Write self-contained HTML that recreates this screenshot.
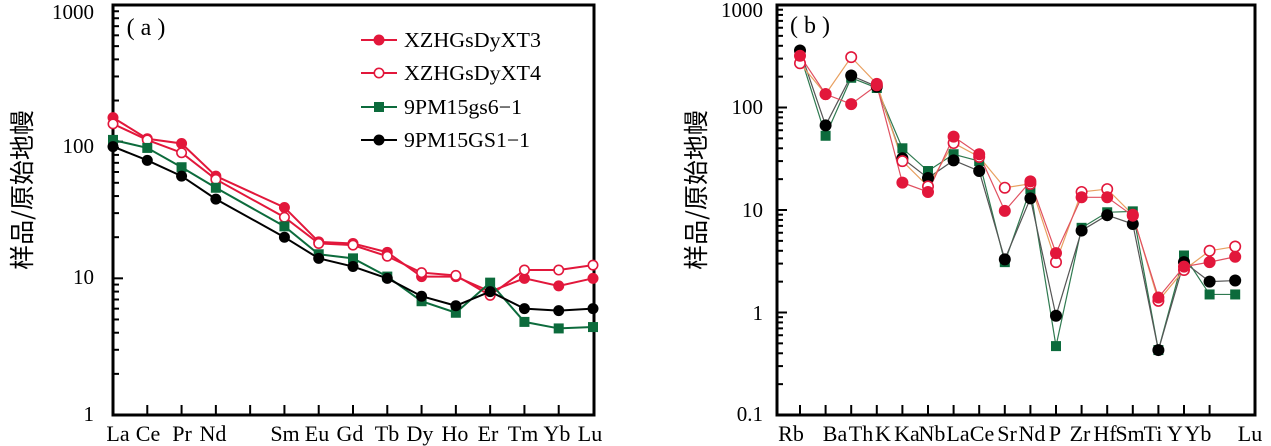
<!DOCTYPE html>
<html><head><meta charset="utf-8">
<style>
html,body{margin:0;padding:0;background:#fff;}
svg{display:block;font-family:"Liberation Serif","Noto Serif CJK SC",serif;}
</style></head>
<body>
<svg id="s" width="1271" height="446" viewBox="0 0 1271 446" xmlns="http://www.w3.org/2000/svg"></svg>
<script>
const S=document.getElementById('s');let h='';
const RED='#e2173b',GRN='#0c6b3c',BLK='#000';
function line(x1,y1,x2,y2,c,w){h+=`<line x1="${x1}" y1="${y1}" x2="${x2}" y2="${y2}" stroke="${c}" stroke-width="${w}"/>`;}
function txt(x,y,t,sz,anc,extra){h+=`<text x="${x}" y="${y}" font-size="${sz}" text-anchor="${anc||'middle'}" ${extra||''}>${t}</text>`;}
function marker(x,y,type,c,r){
 if(type=='f')h+=`<circle cx="${x}" cy="${y}" r="${r}" fill="${c}"/>`;
 else if(type=='o')h+=`<circle cx="${x}" cy="${y}" r="${r-0.8}" fill="#fff" stroke="${c}" stroke-width="1.6"/>`;
 else h+=`<rect x="${x-r}" y="${y-r}" width="${2*r}" height="${2*r}" fill="${c}"/>`;
}
// ---------- Panel A ----------
{
const L=113,R=594,T=5,B=415;const dec=(B-T)/3;
const Y=v=>B-Math.log10(v)*dec;
const xs=[];for(let i=0;i<15;i++)xs.push(L+i*(593-L)/14);
for(let i=1;i<14;i++)line(xs[i],B,xs[i],B-10,BLK,2);
for(let d=0;d<3;d++)for(let m=1;m<10;m++){const y=B-(d+Math.log10(m))*dec;line(L,y,L+(m==1?10:6),y,BLK,2);}
h+=`<rect x="${L}" y="${T}" width="${R-L}" height="${B-T}" fill="none" stroke="#000" stroke-width="3"/>`;
txt(94,421,'1',21,'end');txt(94,284,'10',21,'end');txt(94,153,'100',21,'end');txt(94,19,'1000',21,'end');
const lab=[['La',118],['Ce',148],['Pr',182],['Nd',213],['Sm',285],['Eu',317],['Gd',350],['Tb',387],['Dy',420],['Ho',455],['Er',488],['Tm',523],['Yb',557],['Lu',590]];
lab.forEach(a=>txt(a[1],441,a[0],22));
txt(146,35,'( a )',24);
h+=`<text transform="translate(31,190) rotate(-90)" font-size="25" text-anchor="middle" font-family="Noto Sans CJK SC,sans-serif">样品/原始地幔</text>`;
const idx=[0,1,2,3,5,6,7,8,9,10,11,12,13,14];
const D=[
 [RED,'f',[150,105,97,56,33,18.5,18,15.5,10.3,10.3,8,10,8.8,10]],
 [RED,'o',[135,103,83,53,28,18,17.5,14.5,11,10.5,7.5,11.5,11.5,12.5]],
 [GRN,'s',[103,90,65,46,24,15,14,10.3,6.8,5.6,9.3,4.8,4.3,4.4]],
 [BLK,'f',[92,73,56,38,20,14,12.2,10,7.4,6.3,8,6,5.8,6]]];
D.forEach(d=>{const p=d[2].map((v,i)=>[xs[idx[i]],Y(v)]);
 h+=`<polyline points="${p.map(q=>q.join(',')).join(' ')}" fill="none" stroke="${d[0]}" stroke-width="2"/>`;
 p.forEach(q=>marker(q[0],q[1],d[1],d[0],d[1]=='s'?5:5.5));});
const leg=['XZHGsDyXT3','XZHGsDyXT4','9PM15gs6−1','9PM15GS1−1'];
[40,73,107,140].forEach((y,i)=>{const d=D[i];line(361,y,397,y,d[0],2);marker(379,y,d[1],d[0],d[1]=='s'?5:5.5);
 txt(404,y+7,leg[i],21,'start',`textLength="${i<2?137:i==2?118:126}" lengthAdjust="spacingAndGlyphs"`);});
}
// ---------- Panel B ----------
{
const L=777,R=1255,T=5,B=415;const dec=(B-T)/4;
const Y=v=>B-(Math.log10(v)+1)*dec;
const xs=[];for(let i=0;i<18;i++)xs.push(800+i*25.6);
for(let i=0;i<17;i++)line(xs[i],B,xs[i],B-10,BLK,2);
for(let d=0;d<4;d++)for(let m=1;m<10;m++){const y=B-(d+Math.log10(m))*dec;line(L,y,L+(m==1?10:6),y,BLK,2);}
h+=`<rect x="${L}" y="${T}" width="${R-L}" height="${B-T}" fill="none" stroke="#000" stroke-width="3"/>`;
txt(763,421,'0.1',21,'end');txt(763,320,'1',21,'end');txt(763,217,'10',21,'end');txt(763,114,'100',21,'end');txt(763,17,'1000',21,'end');
const lab=[['Rb',791],['Ba',835],['Th',861],['K',883],['Ka',907],['Nb',932],['La',958],['Ce',982],['Sr',1007],['Nd',1032],['P',1055],['Zr',1080],['Hf',1105],['Sm',1130],['Ti',1153],['Y',1175],['Yb',1198],['Lu',1250]];
lab.forEach(a=>txt(a[1],441,a[0],22));
txt(810,33,'( b )',24);
h+=`<text transform="translate(705,190) rotate(-90)" font-size="25" text-anchor="middle" font-family="Noto Sans CJK SC,sans-serif">样品/原始地幔</text>`;
const D=[
 [GRN,'s',[330,53,195,155,40,24,35,30,3.1,16,0.47,6.7,9.5,9.7,0.43,3.6,1.5,1.5],'#2f7a50'],
 [BLK,'f',[360,67,205,160,32,20.5,30.5,24,3.3,13,0.93,6.3,8.9,7.3,0.43,3.1,2,2.05],'#555'],
 [RED,'o',[270,135,310,170,30,17,45,33,16.5,18,3.1,15,16,9,1.3,2.6,4,4.4],'#e8a060'],
 [RED,'f',[320,135,108,165,18.5,15,52,35,9.8,19,3.8,13.3,13.3,8.8,1.4,2.8,3.1,3.5],'#e05060']];
D.forEach(d=>{const p=d[2].map((v,i)=>[xs[i],Y(v)]);
 h+=`<polyline points="${p.map(q=>q.join(',')).join(' ')}" fill="none" stroke="${d[3]}" stroke-width="1.2"/>`;});
D.forEach(d=>{d[2].forEach((v,i)=>marker(xs[i],Y(v),d[1],d[0],d[1]=='s'?5:6));});
}
S.innerHTML=h;
</script>
</body></html>
